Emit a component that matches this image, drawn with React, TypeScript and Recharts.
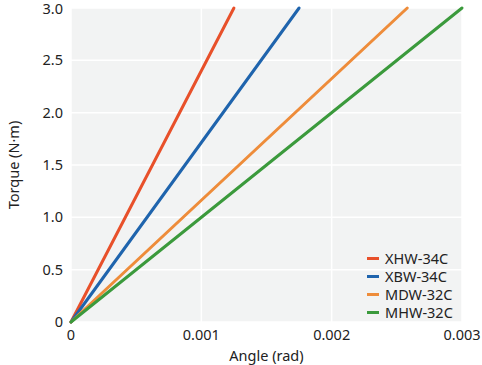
import { LineChart, Line, XAxis, YAxis, CartesianGrid, Legend, Label } from 'recharts'

// angle (rad) where each model reaches 3.0 N·m
const models = ['XHW-34C', 'XBW-34C', 'MDW-32C', 'MHW-32C']
const colors = ['#e8502a', '#1f64ad', '#ee8c3a', '#3b9a3c']
const endAngles = [0.00125, 0.00175, 0.00258, 0.003]
const maxTorque = 3.0
const xTicks = [0, 0.001, 0.002, 0.003]
const yTicks = [0, 0.5, 1.0, 1.5, 2.0, 2.5, 3.0]

const font = '"Noto Sans", sans-serif'
const fs = 14.5
const txt = '#222'

const fmtX = (v: number) => (v === 0 ? '0' : v.toFixed(3))
const fmtY = (v: number) => (v === 0 ? '0' : v.toFixed(1))

function ModelLegend() {
    return (
        <div style={{ fontFamily: font, fontSize: fs, color: txt, lineHeight: '18px' }}>
            {models.map((m, i) => (
                <div key={m} style={{ display: 'flex', alignItems: 'center', height: 18 }}>
                    <span style={{ display: 'inline-block', width: 12, height: 3, background: colors[i], marginRight: 6 }} />
                    <span>{m}</span>
                </div>
            ))}
        </div>
    )
}

export default function App() {
    return (
        <div style={{ position: 'absolute', left: 0, top: 0, fontFamily: font }}>
            <LineChart width={482} height={365} margin={{ top: 8, right: 20, left: 0, bottom: 0 }}>
                <CartesianGrid fill="#f2f3f3" stroke="#ffffff" strokeWidth={1.5} />
                <XAxis
                    type="number"
                    dataKey="x"
                    domain={[0, 0.003]}
                    ticks={xTicks}
                    tickFormatter={fmtX}
                    axisLine={false}
                    tickLine={false}
                    height={43}
                    tick={{ fill: txt, fontSize: fs, fontFamily: font }}
                >
                    <Label value="Angle (rad)" position="insideBottom" offset={4} style={{ fill: txt, fontSize: fs, fontFamily: font }} />
                </XAxis>
                <YAxis
                    type="number"
                    dataKey="y"
                    domain={[0, 3]}
                    ticks={yTicks}
                    tickFormatter={fmtY}
                    axisLine={false}
                    tickLine={false}
                    width={71}
                    tick={{ fill: txt, fontSize: fs, fontFamily: font }}
                >
                    <Label value="Torque (N·m)" angle={-90} position="insideLeft" offset={14} style={{ textAnchor: 'middle', fill: txt, fontSize: fs, fontFamily: font }} />
                </YAxis>
                <Legend
                    layout="vertical"
                    align="center"
                    verticalAlign="middle"
                    content={<ModelLegend />}
                    wrapperStyle={{ left: 367, top: 249, width: 'auto' }}
                />
                {models.map((m, i) => (
                    <Line
                        key={m}
                        name={m}
                        data={[{ x: 0, y: 0 }, { x: endAngles[i], y: maxTorque }]}
                        dataKey="y"
                        stroke={colors[i]}
                        strokeWidth={3}
                        strokeLinecap="round"
                        dot={false}
                        activeDot={false}
                        isAnimationActive={false}
                    />
                ))}
            </LineChart>
        </div>
    )
}
